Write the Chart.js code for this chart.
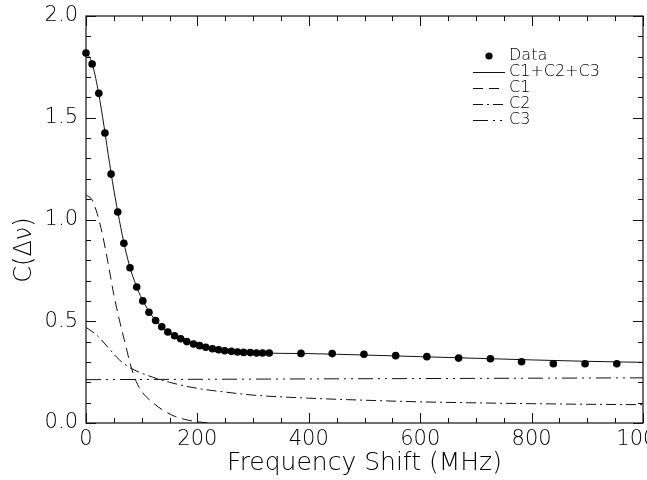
<!DOCTYPE html>
<html>
<head>
<meta charset="utf-8">
<script src="https://cdn.jsdelivr.net/npm/chart.js@4.4.1/dist/chart.umd.min.js"></script>
<style>
  html, body { margin: 0; padding: 0; background: #fff; }
  #wrap { width: 647px; height: 480px; }
</style>
</head>
<body>
<div id="wrap"><canvas id="chart"></canvas></div>
<script>
// measured points
const dataX = [0, 11, 23, 34, 45, 57, 68, 79, 91, 102, 113, 125, 136, 147, 159, 170, 181, 193, 204, 215,
               227, 238, 249, 261, 272, 283, 295, 306, 317, 329,
               386, 442, 499, 556, 612, 669, 726, 782, 839, 896, 953];
const dataY = [1.818, 1.764, 1.62, 1.425, 1.223, 1.037, 0.883, 0.763, 0.668, 0.600, 0.544, 0.504, 0.473, 0.447, 0.429, 0.414, 0.400, 0.388, 0.380, 0.372,
               0.365, 0.360, 0.355, 0.352, 0.349, 0.347, 0.346, 0.344, 0.344, 0.344,
               0.342, 0.341, 0.338, 0.331, 0.326, 0.319, 0.316, 0.301, 0.291, 0.291, 0.291];

// fit curves
const fitX = [0, 10, 20, 30, 40, 50, 60, 70, 80, 90, 100, 120, 140, 160, 180, 200, 250, 300, 400, 500, 600, 700, 800, 900, 1000];
const fitY = [1.82, 1.775, 1.66, 1.50, 1.318, 1.145, 0.995, 0.861, 0.755, 0.676, 0.612, 0.521, 0.464, 0.428, 0.401, 0.383, 0.355, 0.345, 0.341, 0.334, 0.326, 0.318, 0.310, 0.303, 0.298];

const c1X = [0, 10, 20, 30, 40, 50, 60, 70, 80, 90, 100, 120, 140, 160, 180, 200, 220];
const c1Y = [1.12, 1.10, 1.03, 0.92, 0.78, 0.63, 0.505, 0.395, 0.285, 0.205, 0.155, 0.10, 0.06, 0.032, 0.016, 0.006, 0];

const c2X = [0, 20, 40, 60, 80, 100, 120, 150, 200, 250, 300, 400, 500, 600, 700, 800, 900, 1000];
const c2Y = [0.47, 0.43, 0.37, 0.31, 0.27, 0.245, 0.225, 0.20, 0.17, 0.152, 0.137, 0.122, 0.112, 0.104, 0.099, 0.095, 0.092, 0.09];

const c3X = [0, 1000];
const c3Y = [0.213, 0.222];

const xTicks = [0, 200, 400, 600, 800, 1000];
const yTicks = [0.0, 0.5, 1.0, 1.5, 2.0];

function pts(xs, ys) {
    return xs.map((x, i) => ({ x: x, y: ys[i] }));
}

const INK = '#000';
const FONT = '"DejaVu Sans", sans-serif';

function curve(label, xs, ys, dash) {
    return {
        type: 'line',
        label: label,
        data: pts(xs, ys),
        borderColor: '#111',
        borderWidth: 1,
        borderDash: dash,
        pointRadius: 0,
        fill: false,
        cubicInterpolationMode: 'monotone'
    };
}

// box with inward ticks on all four sides
const frame = {
    id: 'frame',
    afterDatasetsDraw(chart) {
        const { ctx, chartArea: a, scales: { x, y } } = chart;
        ctx.save();
        ctx.strokeStyle = '#111';
        ctx.lineWidth = 1.2;
        ctx.strokeRect(a.left, a.top, a.right - a.left, a.bottom - a.top);
        ctx.lineWidth = 1;
        ctx.beginPath();
        for (let v = 0; v <= 1000; v += 50) {
            const px = Math.round(x.getPixelForValue(v)) + 0.5;
            const len = v % 200 === 0 ? 10 : 5;
            ctx.moveTo(px, a.bottom); ctx.lineTo(px, a.bottom - len);
            ctx.moveTo(px, a.top); ctx.lineTo(px, a.top + len);
        }
        for (let k = 0; k <= 20; k++) {
            const py = Math.round(y.getPixelForValue(k / 10)) + 0.5;
            const len = k % 5 === 0 ? 10 : 5;
            ctx.moveTo(a.left, py); ctx.lineTo(a.left + len, py);
            ctx.moveTo(a.right, py); ctx.lineTo(a.right - len, py);
        }
        ctx.stroke();
        ctx.restore();
    }
};

// legend drawn inside the plot, upper right
const innerLegend = {
    id: 'innerLegend',
    afterDraw(chart) {
        const { ctx } = chart;
        const x0 = 473, x1 = 505, tx = 509;
        let yy = 56;
        ctx.save();
        ctx.font = '300 16px ' + FONT;
        ctx.textBaseline = 'middle';
        ctx.fillStyle = INK;
        chart.data.datasets.forEach(ds => {
            ctx.strokeStyle = '#111';
            ctx.lineWidth = 1;
            if (ds.showLine === false) {
                ctx.beginPath();
                ctx.arc((x0 + x1) / 2, yy, 3.6, 0, Math.PI * 2);
                ctx.fill();
            } else {
                ctx.setLineDash(ds.borderDash || []);
                ctx.beginPath();
                ctx.moveTo(x0, yy + 0.5);
                ctx.lineTo(x1, yy + 0.5);
                ctx.stroke();
                ctx.setLineDash([]);
            }
            ctx.fillText(ds.label, tx, yy);
            yy += 16;
        });
        ctx.restore();
    }
};

new Chart(document.getElementById('chart'), {
    type: 'scatter',
    data: {
        datasets: [
            {
                label: 'Data',
                data: pts(dataX, dataY),
                showLine: false,
                clip: false,
                pointRadius: 3.8,
                pointBackgroundColor: INK,
                pointBorderColor: INK,
                pointBorderWidth: 0
            },
            curve('C1+C2+C3', fitX, fitY, []),
            curve('C1', c1X, c1Y, [10, 6]),
            curve('C2', c2X, c2Y, [10, 4, 2, 4]),
            curve('C3', c3X, c3Y, [15, 5, 2, 5, 2, 5])
        ]
    },
    options: {
        responsive: true,
        maintainAspectRatio: false,
        animation: false,
        layout: { padding: { top: 16, right: 4, left: 0, bottom: 0 } },
        plugins: {
            legend: { display: false },
            tooltip: { enabled: false }
        },
        scales: {
            x: {
                type: 'linear',
                min: 0,
                max: 1000,
                grid: { display: false, drawTicks: false },
                border: { display: false },
                afterBuildTicks: s => { s.ticks = xTicks.map(v => ({ value: v })); },
                afterFit: s => { s.height = 57; s.paddingLeft = 0; s.paddingRight = 0; },
                ticks: {
                    autoSkip: false,
                    maxRotation: 0,
                    padding: 4,
                    color: INK,
                    font: { family: FONT, size: 21, weight: 300 },
                    callback: v => String(v)
                },
                title: {
                    display: true,
                    text: 'Frequency Shift (MHz)',
                    color: INK,
                    padding: { top: 0, bottom: 2 },
                    font: { family: FONT, size: 25, weight: 300 }
                }
            },
            y: {
                type: 'linear',
                min: 0,
                max: 2,
                grid: { display: false, drawTicks: false },
                border: { display: false },
                afterBuildTicks: s => { s.ticks = yTicks.map(v => ({ value: v })); },
                afterFit: s => { s.width = 86; s.paddingTop = 0; s.paddingBottom = 0; },
                ticks: {
                    padding: 8,
                    color: INK,
                    font: { family: FONT, size: 21, weight: 300 },
                    callback: v => v.toFixed(1)
                },
                title: {
                    display: true,
                    text: 'C(Δν)\u00a0\u00a0\u00a0\u00a0\u00a0\u00a0\u00a0\u00a0',
                    color: INK,
                    padding: { top: 10, bottom: 0 },
                    font: { family: FONT, size: 24, weight: 300 }
                }
            }
        }
    },
    plugins: [frame, innerLegend]
});
</script>
</body>
</html>
